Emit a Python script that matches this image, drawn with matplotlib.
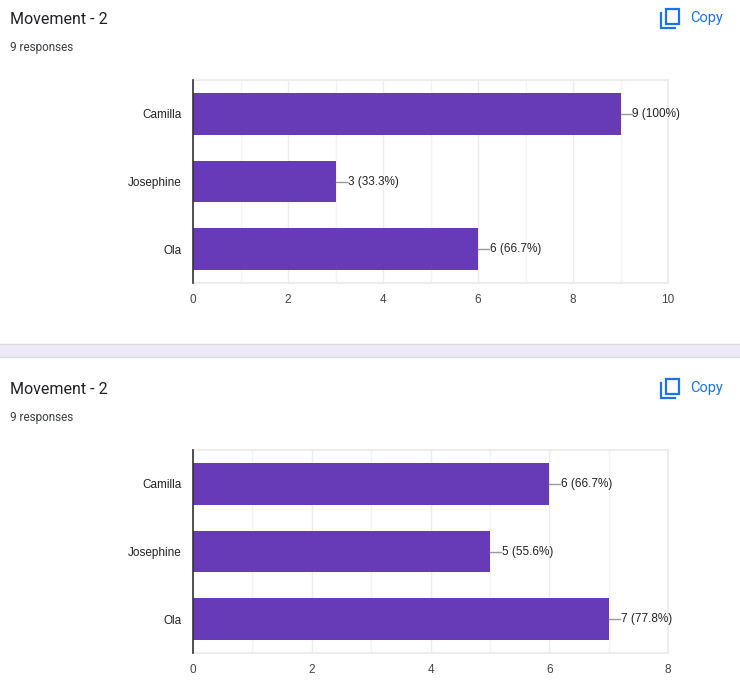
import matplotlib
matplotlib.use("Agg")
import matplotlib.pyplot as plt
from matplotlib.patches import Rectangle
from matplotlib.lines import Line2D

names = ["Camilla", "Josephine", "Ola"]
counts_top = [9, 3, 6]
counts_bottom = [6, 5, 7]
total = 9
title = "Movement - 2"
subtitle = "9 responses"

W, H = 740, 696
bar_color = "#673ab7"

fig = plt.figure(figsize=(W / 100, H / 100), dpi=100)
fig.patch.set_facecolor("white")


def px(x, y):
    # pixel coords (from top-left) -> figure fraction
    return x / W, 1 - y / H


def header(y0):
    fig.text(*px(10, y0 + 19), title, fontsize=11.5, family="Roboto",
             color="#202124", va="center", ha="left")
    fig.text(*px(10, y0 + 47), subtitle, fontsize=8.5, family="Roboto",
             color="#3c4043", va="center", ha="left")
    fig.text(*px(690, y0 + 18), "Copy", fontsize=10.5, family="Roboto",
             color="#1a73e8", va="center", ha="left")
    # copy icon
    blue = "#1a73e8"
    x0, y1 = px(666, y0 + 9)
    x1, y2 = px(679, y0 + 24)
    fig.patches.append(Rectangle((x0, y2), x1 - x0, y1 - y2, fill=False,
                                 edgecolor=blue, linewidth=1.6,
                                 transform=fig.transFigure))
    a = px(661, y0 + 13)
    b = px(661, y0 + 28)
    c = px(675, y0 + 28)
    fig.lines.append(Line2D([a[0], b[0], c[0]], [a[1], b[1], c[1]], color=blue,
                            linewidth=1.6, transform=fig.transFigure,
                            solid_joinstyle="miter"))


def panel(y_top, y_bot, counts, xmax, step):
    left, top = px(193, y_top)
    right, bot = px(668, y_bot)
    ax = fig.add_axes([left, bot, right - left, top - bot])
    pos = list(range(len(names)))
    ax.barh(pos, counts, height=0.62, color=bar_color, zorder=3)
    ax.set_ylim(len(names) - 0.5, -0.5)
    ax.set_xlim(0, xmax)
    ax.set_xticks(range(0, xmax + 1, step))
    ax.set_xticks(range(0, xmax + 1), minor=True)
    ax.set_yticks(pos)
    ax.set_yticklabels(names)
    ax.grid(axis="x", which="minor", color="#f3f3f3", linewidth=1, zorder=0)
    ax.grid(axis="x", which="major", color="#ececec", linewidth=1, zorder=0)
    ax.tick_params(axis="both", which="both", length=0, labelsize=8.5,
                   labelcolor="#444444")
    ax.tick_params(axis="x", pad=8)
    ax.tick_params(axis="y", pad=8)
    for lab in ax.get_xticklabels() + ax.get_yticklabels():
        lab.set_family("Liberation Sans")
    for lab in ax.get_yticklabels():
        lab.set_color("#222222")
    for s in ["top", "right", "bottom"]:
        ax.spines[s].set_color("#ededed")
        ax.spines[s].set_linewidth(1.5)
    ax.spines["left"].set_color("#333333")
    ax.spines["left"].set_linewidth(1.2)
    ax.spines["left"].set_zorder(4)
    unit = xmax / 475.0
    for i, v in enumerate(counts):
        ax.plot([v, v + 11 * unit], [i, i], color="#999999", linewidth=1,
                zorder=4, clip_on=False)
        pct = v / total * 100
        lab = f"{v} (100%)" if v == total else f"{v} ({pct:.1f}%)"
        ax.text(v + 12 * unit, i, lab, va="center", ha="left", fontsize=8.5,
                family="Liberation Sans", color="#222222")
    return ax


header(0)
panel(80, 283, counts_top, 10, 2)

# separator band
_, sy_top = px(0, 344)
_, sy_bot = px(0, 357)
fig.patches.append(Rectangle((0, sy_bot), 1, sy_top - sy_bot,
                             facecolor="#ede9f6", edgecolor="none",
                             transform=fig.transFigure))
for yy in (sy_top, sy_bot):
    fig.lines.append(Line2D([0, 1], [yy, yy], color="#dadce0", linewidth=1,
                            transform=fig.transFigure))

header(370)
panel(450, 653, counts_bottom, 8, 2)

fig.savefig("out.png", dpi=100, facecolor="white")
